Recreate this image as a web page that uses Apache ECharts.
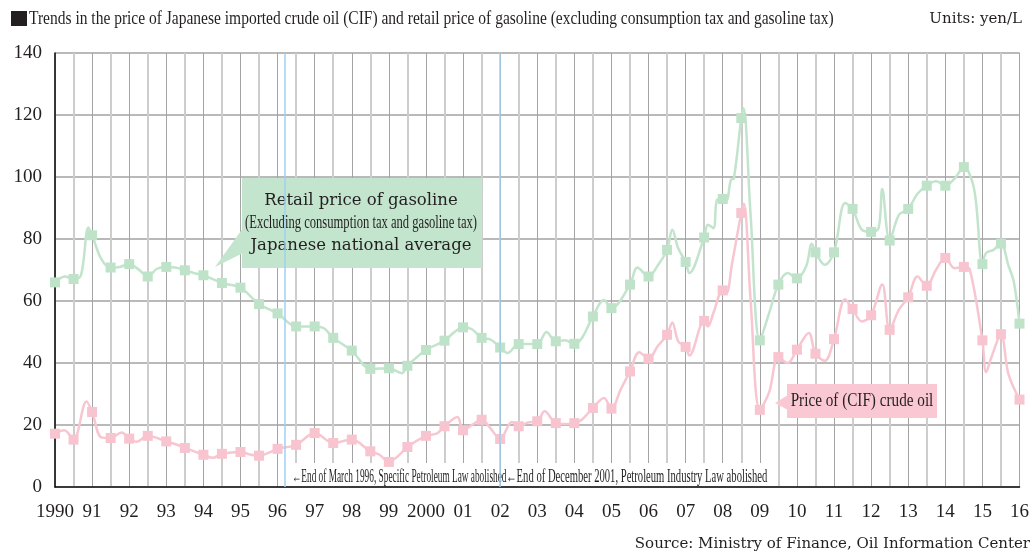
<!DOCTYPE html>
<html>
<head>
<meta charset="utf-8">
<script src="https://cdn.jsdelivr.net/npm/echarts@6/dist/echarts.min.js"></script>
<style>
html,body{margin:0;padding:0;background:#fff}
#chart{width:1032px;height:554px}
</style>
</head>
<body>
<div id="chart"></div>
<script>
// x axis labels, one per year 1990..2016
var yearLabels = ['1990','91','92','93','94','95','96','97','98','99','2000','01','02','03','04','05','06','07','08','09','10','11','12','13','14','15','16'];

// half-year marker values (1990.0, 1990.5, ... 2016.0), yen/L
var gasMarks = [66.0,67.1,81.2,70.8,71.9,67.9,71.0,69.9,68.3,65.8,64.3,59.0,56.0,51.8,51.8,48.1,44.0,38.1,38.3,39.1,44.2,47.2,51.5,48.1,45.0,46.1,46.1,47.0,46.2,55.0,57.7,65.3,67.9,76.5,72.6,80.5,92.9,119.0,47.3,65.3,67.3,75.7,75.7,89.7,82.3,79.5,89.7,97.2,97.2,103.2,71.9,78.5,52.7];
var oilMarks = [17.2,15.3,24.2,15.8,15.6,16.5,14.7,12.6,10.4,10.7,11.3,10.1,12.3,13.6,17.4,14.2,15.3,11.5,8.1,12.9,16.5,19.6,18.3,21.7,15.5,19.6,21.2,20.6,20.6,25.5,25.3,37.3,41.4,49.1,45.2,53.6,63.4,88.4,24.9,41.9,44.3,43.0,47.7,57.4,55.4,50.7,61.2,64.9,73.9,71.0,47.3,49.3,28.2];

// readings between the markers (no marker drawn)
var gasExtraT = [1990.27,1990.7,1990.9,1991.25,1991.75,1992.25,1992.75,1993.25,1993.75,1997.25,1998.75,1999.35,2000.75,2001.25,2001.75,2002.2,2003.25,2003.75,2004.2,2004.8,2005.7,2006.25,2006.64,2006.8,2007.1,2007.6,2007.75,2007.85,2008.1,2008.22,2008.3,2008.56,2008.75,2009.25,2009.75,2010.25,2010.4,2010.75,2011.3,2011.75,2012.2,2012.3,2012.75,2013.25,2013.75,2014.25,2014.78,2015.1,2015.3,2015.7,2015.85];
var gasExtraV = [67.9,68.3,83.7,73.5,71.0,70.2,70.4,70.8,69.0,51.2,38.2,36.7,49.8,50.8,47.5,43.2,50.0,47.3,48.0,60.3,70.8,71.5,83.0,77.0,69.0,84.6,83.5,92.7,92.5,99.1,99.5,122.2,88.0,56.1,69.0,71.2,78.5,71.7,91.6,83.0,83.5,96.1,87.8,94.6,98.6,99.5,95.9,75.5,76.5,71.5,66.0];
var oilExtraT = [1990.25,1990.85,1991.25,1991.8,1992.2,1992.75,1993.25,1994.25,1995.25,1995.75,1998.75,1999.25,2000.3,2000.85,2001.25,2001.73,2002.32,2002.75,2003.2,2003.75,2004.2,2004.8,2005.25,2005.75,2006.25,2006.64,2006.8,2007.1,2007.6,2007.75,2008.1,2008.25,2008.57,2008.75,2009.25,2009.75,2010.32,2010.75,2011.3,2011.75,2012.3,2012.75,2013.25,2013.75,2014.25,2014.66,2015.1,2015.25,2015.7];
var oilExtraV = [18.3,27.6,16.0,17.6,14.6,15.8,13.8,9.4,10.5,11.0,10.4,10.0,17.3,22.6,20.1,19.1,21.0,20.8,24.4,20.3,21.7,28.7,31.5,43.5,45.5,53.1,47.0,42.4,51.8,56.2,62.5,72.0,91.4,60.5,30.5,40.0,49.7,40.7,60.6,53.4,65.3,57.2,67.9,70.1,70.6,70.2,37.0,42.1,36.5];

// vertical reference lines: end of March 1996, end of December 2001
var lawDates = [1996.2, 2002.0];

function buildLine(marks, extraT, extraV) {
    var pts = [];
    marks.forEach(function (v, i) {
        pts.push({ value: [1990 + i * 0.5, v] });
    });
    extraT.forEach(function (t, i) {
        pts.push({ value: [t, extraV[i]], symbol: 'none' });
    });
    pts.sort(function (a, b) { return a.value[0] - b.value[0]; });
    return pts;
}

var serif = '"Liberation Serif", serif';
var century = '"DejaVu Serif", serif';
var ink = '#231f20';

var chart = echarts.init(document.getElementById('chart'));
var option = {
    animation: false,
    grid: { left: 55, right: 10, top: 53, bottom: 67, show: true, borderColor: '#777', borderWidth: 1 },
    xAxis: {
        type: 'value', min: 1990, max: 2016, interval: 1,
        axisLine: { lineStyle: { color: '#111', width: 1.5 } },
        axisTick: { show: false },
        axisLabel: {
            margin: 16, color: ink, fontFamily: serif, fontSize: 19,
            formatter: function (v) { return yearLabels[Math.round(v - 1990)]; }
        },
        splitLine: { show: true, lineStyle: { color: '#a4a4a4', width: 1 } },
        minorTick: { show: false, splitNumber: 2 },
        minorSplitLine: { show: true, lineStyle: { color: '#cdcdcd', width: 2 } }
    },
    yAxis: {
        type: 'value', min: 0, max: 140, interval: 20,
        axisLine: { show: true, lineStyle: { color: '#111', width: 1.5 } },
        axisTick: { show: false },
        axisLabel: { margin: 13, color: ink, fontFamily: serif, fontSize: 19 },
        splitLine: { lineStyle: { color: '#b9b9b9', width: 2 } }
    },
    series: [
        {
            type: 'line', name: 'Retail price of gasoline', z: 3,
            data: buildLine(gasMarks, gasExtraT, gasExtraV),
            smooth: 0.35, symbol: 'rect', symbolSize: 10, showAllSymbol: true,
            lineStyle: { color: '#c2e4cc', width: 2.5 },
            itemStyle: { color: '#bfe3c9' },
            markLine: {
                silent: true, symbol: ['none', 'none'], label: { show: false },
                lineStyle: { color: '#9fd1f2', width: 1.5, type: 'solid' },
                data: lawDates.map(function (d) { return { xAxis: d }; })
            }
        },
        {
            type: 'line', name: 'Price of (CIF) crude oil', z: 3,
            data: buildLine(oilMarks, oilExtraT, oilExtraV),
            smooth: 0.35, symbol: 'rect', symbolSize: 10, showAllSymbol: true,
            lineStyle: { color: '#f8c6d1', width: 2.5 },
            itemStyle: { color: '#f7c4cf' }
        }
    ],
    graphic: [
        // title
        { type: 'rect', shape: { x: 11, y: 11, width: 16, height: 15 }, style: { fill: ink } },
        { type: 'text', x: 29, y: 19, scaleX: 0.816, style: { text: 'Trends in the price of Japanese imported crude oil (CIF) and retail price of gasoline (excluding consumption tax and gasoline tax)', font: '19px ' + serif, fill: ink, verticalAlign: 'middle' } },
        { type: 'text', x: 1022, y: 19, style: { text: 'Units: yen/L', font: '15px ' + century, fill: ink, align: 'right', verticalAlign: 'middle' } },
        { type: 'text', x: 1030, y: 544, style: { text: 'Source: Ministry of Finance, Oil Information Center', font: '15px ' + century, fill: ink, align: 'right', verticalAlign: 'middle' } },
        // gasoline callout
        { type: 'polygon', z: 1, shape: { points: [[243, 228], [215, 267], [243, 253]] }, style: { fill: '#c3e4cd' } },
        { type: 'rect', z: 1, shape: { x: 242, y: 178, width: 240, height: 90 }, style: { fill: '#c3e4cd' } },
        { type: 'text', z: 2, x: 361, y: 201, style: { text: 'Retail price of gasoline', font: '16.5px ' + century, fill: ink, align: 'center', verticalAlign: 'middle' } },
        { type: 'text', z: 2, x: 361, y: 223, scaleX: 0.7, style: { text: '(Excluding consumption tax and gasoline tax)', font: '18px ' + serif, fill: ink, align: 'center', verticalAlign: 'middle' } },
        { type: 'text', z: 2, x: 361, y: 246, style: { text: 'Japanese national average', font: '16.5px ' + century, fill: ink, align: 'center', verticalAlign: 'middle' } },
        // crude oil callout
        { type: 'polygon', z: 1, shape: { points: [[788, 395], [775, 403], [788, 410]] }, style: { fill: '#f9c8d3' } },
        { type: 'rect', z: 1, shape: { x: 787, y: 384, width: 150, height: 34 }, style: { fill: '#f9c8d3' } },
        { type: 'text', z: 2, x: 862, y: 401, scaleX: 0.8, style: { text: 'Price of (CIF) crude oil', font: '19px ' + serif, fill: ink, align: 'center', verticalAlign: 'middle' } },
        // law notes along the bottom
        { type: 'rect', z: 1, shape: { x: 288, y: 463, width: 210, height: 23 }, style: { fill: '#fff' } },
        { type: 'rect', z: 1, shape: { x: 502, y: 463, width: 268, height: 23 }, style: { fill: '#fff' } },
        { type: 'text', z: 2, x: 292, y: 477, scaleX: 0.517, style: { text: '\u2190End of March 1996, Specific Petroleum Law abolished', font: '18px ' + serif, fill: ink, verticalAlign: 'middle' } },
        { type: 'text', z: 2, x: 506, y: 477, scaleX: 0.59, style: { text: '\u2190End of December 2001, Petroleum Industry Law abolished', font: '18px ' + serif, fill: ink, verticalAlign: 'middle' } }
    ]
};
chart.setOption(option);
</script>
</body>
</html>
